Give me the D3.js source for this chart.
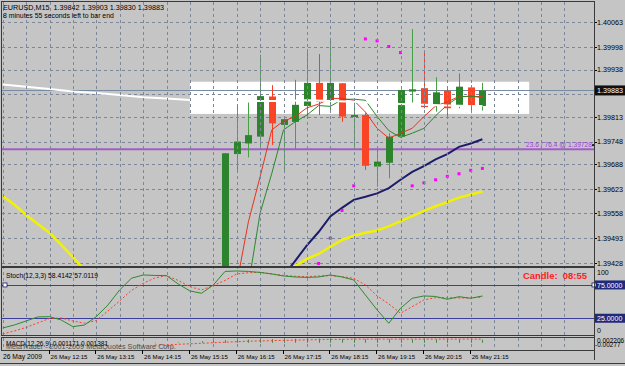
<!DOCTYPE html>
<html>
<head>
<meta charset="utf-8">
<script src="https://cdn.jsdelivr.net/npm/d3@7"></script>
<style>
  body { margin: 0; background: #c5c5c5; }
  svg { display: block; }
  text { font-family: "Liberation Sans", Arial, sans-serif; white-space: pre; }
</style>
</head>
<body>
<div id="chart"></div>
<script>
// EURUSD M15, 26 May 2009. bar 0 = 16:00, one bar = 15 min
var barIdx = d3.range(0, 23);
var openP  = [1.39330, 1.39715, 1.39743, 1.39761, 1.39867, 1.39792, 1.39800, 1.39842, 1.39903, 1.39853, 1.39902, 1.39814,
              1.39818, 1.39682, 1.39692, 1.39761, 1.39880, 1.39889, 1.39845, 1.39882, 1.39842, 1.39891, 1.39842];
var highP  = [1.39717, 1.39847, 1.39851, 1.39977, 1.39897, 1.39810, 1.39911, 1.39992, 1.39979, 1.40022, 1.39902, 1.39858,
              1.39823, 1.39726, 1.39770, 1.39886, 1.40045, 1.39988, 1.39918, 1.39889, 1.39928, 1.39897, 1.39903];
var lowP   = [1.39320, 1.39673, 1.39706, 1.39730, 1.39739, 1.39668, 1.39728, 1.39814, 1.39818, 1.39831, 1.39800, 1.39730,
              1.39673, 1.39629, 1.39651, 1.39757, 1.39851, 1.39836, 1.39827, 1.39816, 1.39836, 1.39823, 1.39830];
var closeP = [1.39717, 1.39748, 1.39765, 1.39868, 1.39796, 1.39807, 1.39845, 1.39903, 1.39853, 1.39903, 1.39814, 1.39818,
              1.39684, 1.39695, 1.39761, 1.39884, 1.39886, 1.39839, 1.39878, 1.39836, 1.39893, 1.39842, 1.39883];

// moving averages (first bar index, values)
var redStart = 0;
var redMA = [1.39250, 1.39372, 1.39536, 1.39655, 1.39779, 1.39802, 1.39814, 1.39837, 1.39847, 1.39862, 1.39862, 1.39857,
             1.39826, 1.39783, 1.39757, 1.39770, 1.39783, 1.39814, 1.39842, 1.39853, 1.39867, 1.39867, 1.39867];
var greenStart = 1;
var greenMA = [1.39250, 1.39369, 1.39559, 1.39664, 1.39779, 1.39800, 1.39818, 1.39843, 1.39841, 1.39859, 1.39860,
               1.39857, 1.39814, 1.39777, 1.39759, 1.39770, 1.39783, 1.39816, 1.39845, 1.39866, 1.39868, 1.39864];
var navyStart = 5;
var navyMA = [1.39393, 1.39433, 1.39474, 1.39509, 1.39550, 1.39573, 1.39594, 1.39602, 1.39611, 1.39625, 1.39647,
              1.39668, 1.39683, 1.39701, 1.39715, 1.39734, 1.39743, 1.39754];
var yellowLeftStart = -19;
var yellowLeft = [1.39604, 1.39581, 1.39554, 1.39530, 1.39507, 1.39475, 1.39443, 1.39409, 1.39374];
var yellowRightStart = 5;
var yellowRight = [1.39404, 1.39419, 1.39438, 1.39451, 1.39470, 1.39488, 1.39499, 1.39507, 1.39513, 1.39524, 1.39538,
                   1.39551, 1.39565, 1.39577, 1.39588, 1.39600, 1.39608, 1.39616];
var whiteBars = [-19, -17, -15, -13, -11, -9, -7, -5, -3, -1, 1, 3, 5, 7, 9, 11, 13, 15, 17, 19, 21, 22];
var whiteMA = [1.39899, 1.39893, 1.39887, 1.39880, 1.39876, 1.39871, 1.39865, 1.39862, 1.39858, 1.39857, 1.39855,
               1.39855, 1.39855, 1.39857, 1.39855, 1.39853, 1.39850, 1.39847, 1.39845, 1.39843, 1.39842, 1.39842];
var sarStart = 8;
var sar = [1.39426, 1.39493, 1.39566, 1.39631, 1.40019, 1.40014, 1.39999, 1.39983, 1.39631, 1.39639, 1.39647,
           1.39656, 1.39663, 1.39672, 1.39677];

// white box object and fibo level
var boxBars = [-3, 26];
var boxPrices = [1.39821, 1.39906];
var fiboPrice = 1.39728;
var bidPrice = 1.39883;

// stochastic (12,3,3) from bar -19
var stochStart = -19;
var stochMain = [10.4, 14.9, 20.9, 27, 27.4, 22.4, 12.4, 14.9, 27.4, 45, 67.5, 85, 90, 89.3, 89, 76.5, 66, 62.5, 75,
                 95.3, 96, 95.3, 93.8, 91.5, 88.5, 87, 86.3, 87, 90, 87, 82.5, 60, 37.5, 17.5, 40, 55, 58.5, 57.7,
                 53.5, 57.4, 55, 58.4];
var stochSignal = [1.4, 5.9, 11.2, 17.9, 24.7, 25.4, 20.9, 17.5, 21.7, 36, 51, 66.7, 77.3, 85.5, 89, 81.8, 72.4, 67.5,
                   74.2, 81.8, 91.5, 93.3, 94, 91.5, 89.3, 88, 87.5, 88.5, 89, 87.5, 85, 75, 58.5, 46.5, 32.5, 42.4,
                   52.5, 55.9, 55.9, 55.5, 55.5, 57.0];
var stochLevels = [75, 25];

// MACD (12,26,9)
var macdStart = -6;
var macdMain = [-0.0002, 0.0000, 0.0002, 0.0004, 0.0006, 0.0008, 0.0010, 0.0011, 0.0012, 0.0013, 0.0014, 0.0015, 0.0015,
                0.0016, 0.0016, 0.0015, 0.0014, 0.0013, 0.0013, 0.0013, 0.0013, 0.0012, 0.0012, 0.0012, 0.0012, 0.0012,
                0.0012, 0.0012, 0.00117];
var macdSignal = [-0.0009, -0.0008, -0.0006, -0.0004, -0.0002, 0.0000, 0.0002, 0.0004, 0.0006, 0.0007, 0.0008, 0.0009,
                  0.0010, 0.0011, 0.0012, 0.0013, 0.0013, 0.0014, 0.0014, 0.0014, 0.0014, 0.0014, 0.0014, 0.0014,
                  0.0014, 0.0014, 0.0014, 0.0014, 0.00138];

var priceTicks = [1.40063, 1.39998, 1.39938, 1.39873, 1.39813, 1.39748, 1.39688, 1.39623, 1.39558, 1.39493, 1.39428];
var timeLabelBars = [-15, -11, -7, -3, 1, 5, 9, 13, 17, 21];
var timeLabels = ["26 May 12:15", "26 May 13:15", "26 May 14:15", "26 May 15:15", "26 May 16:15", "26 May 17:15",
                  "26 May 18:15", "26 May 19:15", "26 May 20:15", "26 May 21:15"];

var W = 625, H = 366;
var pane = { left: 2, right: 594, top: 2, bottom: 266 };
var stochPane = { top: 267, bottom: 335 };
var macdPane = { top: 337, bottom: 350 };
var ink = "#000000";

var x = d3.scaleLinear().domain([0, 22]).range([225, 482.4]);
var y = d3.scaleLinear().domain([1.39428, 1.40063]).range([262.7, 22.3]);
var ys = d3.scaleLinear().domain([0, 100]).range([334.9, 268.3]);
var ym = d3.scaleLinear().domain([-0.002779, 0.002206]).range([350, 337]);

var svg = d3.select("#chart").append("svg")
    .attr("width", W)
    .attr("height", H);

// scale a text's font so it spans the given width
function fit(sel, width) {
    sel.each(function() {
        var fs = parseFloat(d3.select(this).attr("font-size"));
        var w = this.getComputedTextLength();
        if (w > 0) d3.select(this).attr("font-size", (fs * width / w).toFixed(2) + "px");
    });
    return sel;
}

svg.append("rect").attr("width", W).attr("height", H).attr("fill", "#c5c5c5");

var defs = svg.append("defs");
defs.append("clipPath").attr("id", "clipMain").append("rect")
    .attr("x", pane.left).attr("y", pane.top)
    .attr("width", pane.right - pane.left).attr("height", pane.bottom - pane.top);
defs.append("clipPath").attr("id", "clipStoch").append("rect")
    .attr("x", pane.left).attr("y", stochPane.top)
    .attr("width", pane.right - pane.left).attr("height", stochPane.bottom - stochPane.top);

var main = svg.append("g").attr("clip-path", "url(#clipMain)");

// white box
main.append("rect")
    .attr("x", x(boxBars[0])).attr("y", y(boxPrices[1]))
    .attr("width", x(boxBars[1]) - x(boxBars[0]))
    .attr("height", y(boxPrices[0]) - y(boxPrices[1]))
    .attr("fill", "#ffffff");

// grid
var gridBars = d3.range(-23, 31, 2);
main.selectAll("line.hgrid").data(priceTicks).enter().append("line")
    .attr("x1", pane.left).attr("x2", pane.right)
    .attr("y1", d => Math.round(y(d)) + 0.5).attr("y2", d => Math.round(y(d)) + 0.5)
    .attr("stroke", "#7d8797").attr("stroke-dasharray", "3,3");
svg.selectAll("line.vgrid").data(gridBars).enter().append("line")
    .attr("x1", d => Math.round(x(d)) + 0.5).attr("x2", d => Math.round(x(d)) + 0.5)
    .attr("y1", pane.top).attr("y2", macdPane.bottom)
    .attr("stroke", "#7d8797").attr("stroke-dasharray", "3,3");

// bid line
main.append("line")
    .attr("x1", pane.left).attr("x2", pane.right)
    .attr("y1", Math.round(y(bidPrice)) + 0.5).attr("y2", Math.round(y(bidPrice)) + 0.5)
    .attr("stroke", "#7a8aa0");

// fibo line
main.append("line")
    .attr("x1", pane.left).attr("x2", pane.right)
    .attr("y1", y(fiboPrice)).attr("y2", y(fiboPrice))
    .attr("stroke", "#a25cc8").attr("stroke-width", 2);
fit(svg.append("text")
    .attr("x", 526).attr("y", y(fiboPrice) - 2)
    .attr("font-size", "7.5px")
    .attr("fill", "#a83ee0")
    .text("23.6 / 76.4 @ " + fiboPrice.toFixed(5)), 66);
svg.append("rect").attr("x", 592).attr("y", y(fiboPrice) - 5).attr("width", 2).attr("height", 2).attr("fill", "#202020");

function series(start, vals) {
    return vals.map((v, i) => ({ b: start + i, v: v }));
}
var line = d3.line().defined(d => d.v != null).x(d => x(d.b)).y(d => y(d.v));

main.append("path").datum(series(yellowLeftStart, yellowLeft))
    .attr("d", line).attr("fill", "none").attr("stroke", "#f2f200").attr("stroke-width", 2.5);
main.append("path").datum(series(yellowRightStart, yellowRight))
    .attr("d", line).attr("fill", "none").attr("stroke", "#f2f200").attr("stroke-width", 2.5);
main.append("path").datum(series(navyStart, navyMA))
    .attr("d", line).attr("fill", "none").attr("stroke", "#1c1c6a").attr("stroke-width", 2);

// candles
var candles = barIdx.map(i => ({ b: i, o: openP[i], h: highP[i], l: lowP[i], c: closeP[i] }));
var cg = main.selectAll("g.candle").data(candles).enter().append("g");
cg.append("line")
    .attr("x1", d => Math.round(x(d.b)) + 0.5).attr("x2", d => Math.round(x(d.b)) + 0.5)
    .attr("y1", d => y(d.h)).attr("y2", d => y(d.l))
    .attr("stroke", d => d.c >= d.o ? "#46a046" : "#ff3c22");
cg.append("rect")
    .attr("x", d => Math.round(x(d.b)) - 3)
    .attr("y", d => y(Math.max(d.o, d.c)))
    .attr("width", 7)
    .attr("height", d => Math.max(2, Math.abs(y(d.o) - y(d.c))))
    .attr("fill", d => d.c >= d.o ? "#2c842c" : "#fa4426");

main.append("path").datum(series(redStart, redMA))
    .attr("d", line).attr("fill", "none").attr("stroke", "#e8321e").attr("stroke-width", 1);
main.append("path").datum(series(greenStart, greenMA))
    .attr("d", line).attr("fill", "none").attr("stroke", "#2a8a2a").attr("stroke-width", 1);
main.append("path").datum(whiteBars.map((b, i) => ({ b: b, v: whiteMA[i] })))
    .attr("d", line).attr("fill", "none").attr("stroke", "#ffffff").attr("stroke-width", 2);

main.selectAll("rect.sar").data(series(sarStart, sar)).enter().append("rect")
    .attr("x", d => x(d.b) - 1.5).attr("y", d => y(d.v) - 1.5)
    .attr("width", 3).attr("height", 3).attr("fill", "#ff00ff");

// stochastic pane
var st = svg.append("g").attr("clip-path", "url(#clipStoch)");
st.selectAll("line.lvl").data(stochLevels).enter().append("line")
    .attr("x1", pane.left).attr("x2", pane.right)
    .attr("y1", d => Math.round(ys(d)) + 0.5).attr("y2", d => Math.round(ys(d)) + 0.5)
    .attr("stroke", "#3e3e9e");
var sline = d3.line().x(d => x(d.b)).y(d => ys(d.v));
st.append("path").datum(series(stochStart, stochSignal))
    .attr("d", sline).attr("fill", "none").attr("stroke", "#ff3c2a").attr("stroke-width", 1)
    .attr("stroke-dasharray", "2,2");
st.append("path").datum(series(stochStart, stochMain))
    .attr("d", sline).attr("fill", "none").attr("stroke", "#2c8a2c").attr("stroke-width", 1);
svg.append("rect").attr("x", 3).attr("y", ys(75) - 2).attr("width", 4).attr("height", 4)
    .attr("fill", "#ffffff").attr("stroke", "#1c1c6a").attr("stroke-width", 0.8);
fit(svg.append("text").attr("x", 6).attr("y", 278).attr("font-size", "7.5px").attr("fill", ink)
    .text("Stoch(12,3,3) 58.4142 57.0119"), 92);
fit(svg.append("text").attr("x", 523).attr("y", 279).attr("font-size", "10px").attr("font-weight", "bold")
    .attr("fill", "#ff2020").text("Candle:  08:55"), 64);

// macd pane
var mg = svg.append("g");
mg.selectAll("line.hist").data(series(macdStart, macdMain)).enter().append("line")
    .attr("x1", d => Math.round(x(d.b)) + 0.5).attr("x2", d => Math.round(x(d.b)) + 0.5)
    .attr("y1", ym(0)).attr("y2", d => ym(d.v))
    .attr("stroke", "#3c8c3c");
mg.append("path").datum(series(macdStart, macdSignal))
    .attr("d", d3.line().x(d => x(d.b)).y(d => ym(d.v)))
    .attr("fill", "none").attr("stroke", "#ff3c2a").attr("stroke-dasharray", "2,2");
fit(svg.append("text").attr("x", 6).attr("y", 345.5).attr("font-size", "7.5px").attr("fill", ink)
    .text("MACD(12,26,9) 0.001171 0.001381"), 102);
fit(svg.append("text").attr("x", 6).attr("y", 348.5).attr("font-size", "7.5px").attr("fill", "#303030")
    .attr("opacity", 0.8).text("MetaTrader - 2001-2009 MetaQuotes Software Corp."), 170);

// frames
var frame = svg.append("g").attr("fill", "none").attr("stroke", "#3a3a3a");
frame.append("rect").attr("x", pane.left - 0.5).attr("y", pane.top - 0.5)
    .attr("width", pane.right - pane.left + 1).attr("height", pane.bottom - pane.top + 1);
frame.append("rect").attr("x", pane.left - 0.5).attr("y", stochPane.top + 0.5)
    .attr("width", pane.right - pane.left + 1).attr("height", stochPane.bottom - stochPane.top);
frame.append("rect").attr("x", pane.left - 0.5).attr("y", macdPane.top + 0.5)
    .attr("width", pane.right - pane.left + 1).attr("height", macdPane.bottom - macdPane.top);

// price axis (the 1.39873 label sits under the bid box)
var shownTicks = priceTicks.filter(d => Math.abs(y(d) - y(bidPrice)) > 6);
var pAxis = svg.append("g");
pAxis.selectAll("line").data(priceTicks).enter().append("line")
    .attr("x1", pane.right).attr("x2", pane.right + 3)
    .attr("y1", d => Math.round(y(d)) + 0.5).attr("y2", d => Math.round(y(d)) + 0.5)
    .attr("stroke", ink);
fit(pAxis.selectAll("text").data(shownTicks).enter().append("text")
    .attr("x", pane.right + 3).attr("y", d => y(d) + 2.8)
    .attr("font-size", "7.5px").attr("fill", ink)
    .text(d => d.toFixed(5)), 26);
svg.append("rect").attr("x", pane.right + 1).attr("y", y(bidPrice) - 5)
    .attr("width", W - pane.right).attr("height", 10).attr("fill", "#101010");
fit(svg.append("text").attr("x", pane.right + 3).attr("y", y(bidPrice) + 2.8)
    .attr("font-size", "7.5px").attr("fill", "#ffffff").text(bidPrice.toFixed(5)), 26);

// stoch axis
svg.append("text").attr("x", pane.right + 3).attr("y", 275).attr("font-size", "7px").attr("fill", ink).text("100");
svg.append("text").attr("x", pane.right + 3).attr("y", 333).attr("font-size", "7px").attr("fill", ink).text("0");
stochLevels.forEach(function(v) {
    svg.append("rect").attr("x", pane.right + 1).attr("y", ys(v) - 4.5)
        .attr("width", W - pane.right).attr("height", 9).attr("fill", "#1e2a7a");
    svg.append("text").attr("x", pane.right + 3).attr("y", ys(v) + 2.8)
        .attr("font-size", "7px").attr("fill", "#ffffff").text(v.toFixed(4));
});
svg.append("rect").attr("x", pane.right - 2).attr("y", ys(75) - 2).attr("width", 4).attr("height", 4)
    .attr("fill", "#ffffff").attr("stroke", "#1c1c6a").attr("stroke-width", 0.8);

// macd axis
svg.append("text").attr("x", pane.right + 3).attr("y", 343).attr("font-size", "6.5px").attr("fill", ink).text("0.002206");
svg.append("text").attr("x", pane.right + 1).attr("y", 346.5).attr("font-size", "6.5px").attr("fill", ink).text("-0.00277");

// time axis
fit(svg.append("text").attr("x", 3).attr("y", 359).attr("font-size", "7.5px").attr("fill", ink)
    .text("26 May 2009"), 39);
var tAxis = svg.append("g");
tAxis.selectAll("line").data(timeLabelBars).enter().append("line")
    .attr("x1", d => Math.round(x(d)) - 0.5).attr("x2", d => Math.round(x(d)) - 0.5)
    .attr("y1", macdPane.bottom).attr("y2", macdPane.bottom + 4)
    .attr("stroke", ink);
fit(tAxis.selectAll("text").data(timeLabelBars).enter().append("text")
    .attr("x", d => x(d) + 1).attr("y", 359)
    .attr("font-size", "7.5px").attr("fill", ink)
    .text((d, i) => timeLabels[i]), 37);
svg.append("line").attr("x1", pane.right + 0.5).attr("x2", pane.right + 0.5)
    .attr("y1", pane.top).attr("y2", 360).attr("stroke", "#3a3a3a");
svg.append("line").attr("x1", 0).attr("x2", W).attr("y1", 363.5).attr("y2", 363.5).attr("stroke", "#3a3a3a");

// header
fit(svg.append("text").attr("x", 3).attr("y", 10).attr("font-size", "7.5px").attr("fill", ink)
    .text("EURUSD,M15  1.39842 1.39903 1.39830 1.39883"), 161);
fit(svg.append("text").attr("x", 3).attr("y", 17.5).attr("font-size", "7.5px").attr("fill", ink)
    .text("8 minutes 55 seconds left to bar end"), 111);
</script>
</body>
</html>
